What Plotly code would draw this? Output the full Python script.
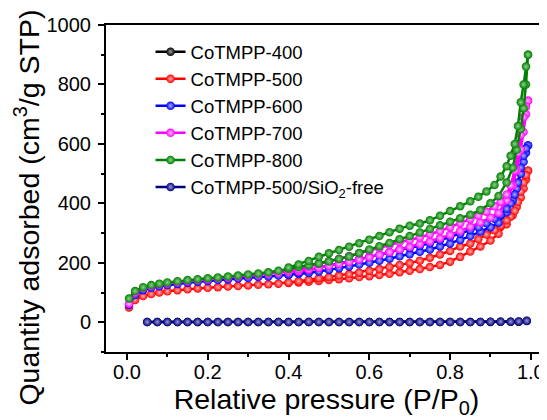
import plotly.graph_objects as go

# ---------------- data ----------------
p_ads = [0.005, 0.02, 0.04, 0.06, 0.08, 0.10, 0.125, 0.15, 0.175, 0.20, 0.225, 0.25,
         0.275, 0.30, 0.325, 0.35, 0.375, 0.40, 0.425, 0.45, 0.475, 0.50, 0.525, 0.55,
         0.575, 0.60, 0.625, 0.65, 0.675, 0.70, 0.725, 0.75, 0.775, 0.80, 0.825, 0.85,
         0.875, 0.90, 0.92, 0.94, 0.955, 0.965, 0.975, 0.982, 0.988, 0.993]
p_des = [0.993, 0.988, 0.982, 0.975, 0.968, 0.96, 0.95, 0.94, 0.925, 0.91, 0.89, 0.87,
         0.85, 0.825, 0.80, 0.775, 0.75, 0.725, 0.70, 0.675, 0.65, 0.625, 0.60, 0.575,
         0.55, 0.525, 0.50, 0.475, 0.45, 0.425, 0.40]

ads_500 = [50, 75, 88, 95, 100, 104, 108, 111, 114, 116, 118, 120, 122, 124, 126, 128,
           130, 132, 134, 136, 139, 142, 145, 148, 152, 155, 159, 163, 168, 173, 179, 186,
           193, 204, 220, 238, 255, 275, 298, 330, 360, 388, 420, 450, 480, 510]
des_500 = [510, 495, 470, 440, 405, 375, 355, 343, 325, 310, 295, 280, 265, 255, 240,
           228, 217, 207, 199, 193, 186, 179, 173, 167, 162, 157, 152, 148, 143, 138, 134]

ads_600 = [58, 92, 108, 116, 121, 125, 129, 133, 136, 139, 142, 144, 147, 149, 152, 154,
           157, 159, 162, 166, 171, 176, 182, 188, 194, 200, 207, 214, 222, 229, 237, 245,
           255, 265, 277, 290, 305, 320, 335, 370, 410, 450, 500, 540, 570, 595]
des_600 = [595, 585, 560, 520, 470, 430, 400, 382, 362, 348, 333, 320, 310, 298, 287,
           276, 266, 257, 250, 244, 235, 227, 220, 212, 205, 198, 191, 184, 175, 167, 161]

ads_700 = [62, 100, 115, 122, 127, 131, 135, 139, 142, 145, 148, 151, 154, 157, 160, 163,
           166, 169, 172, 177, 183, 189, 196, 203, 211, 219, 227, 236, 245, 254, 263, 272,
           283, 294, 307, 321, 336, 352, 368, 410, 460, 510, 580, 640, 700, 745]
des_700 = [745, 725, 690, 630, 570, 510, 460, 430, 405, 390, 372, 358, 347, 333, 320,
           307, 296, 285, 277, 270, 260, 250, 241, 232, 223, 214, 205, 196, 187, 178, 172]

ads_800 = [80, 105, 118, 125, 130, 134, 138, 142, 145, 148, 151, 154, 157, 161, 164, 168,
           173, 179, 186, 192, 198, 205, 213, 221, 233, 245, 256, 267, 279, 290, 302, 314,
           326, 338, 350, 362, 378, 400, 425, 470, 520, 580, 650, 720, 800, 900]
des_800 = [900, 860, 800, 740, 660, 600, 560, 525, 490, 462, 440, 422, 407, 390, 374,
           358, 343, 332, 325, 315, 303, 290, 278, 266, 254, 243, 232, 220, 206, 194, 184]

p_free = [0.05, 0.075, 0.10, 0.125, 0.15, 0.175, 0.20, 0.225, 0.25, 0.275, 0.30, 0.325,
          0.35, 0.375, 0.40, 0.425, 0.45, 0.475, 0.50, 0.525, 0.55, 0.575, 0.60, 0.625,
          0.65, 0.675, 0.70, 0.725, 0.75, 0.775, 0.80, 0.825, 0.85, 0.875, 0.90, 0.925,
          0.95, 0.97, 0.99]
free_vals = [1, 1, 1, 1, 1, 1, 1, 1, 1, 1, 1, 1, 1, 1, 1, 1, 1, 1, 1, 1, 1, 1, 1, 1,
             1, 1, 1, 1, 1, 1, 1, 1, 1, 1, 2, 2, 2, 3, 5]
vals_400 = [1, 1, 1, 1, 1, 1, 1, 1, 1, 1, 1, 1, 1, 1, 1, 1, 1, 1, 1, 1, 1, 1, 1, 1,
            1, 1, 1, 1, 1, 1, 1, 1, 1, 1, 1, 2, 2, 2, 4]

names = ["CoTMPP-400", "CoTMPP-500", "CoTMPP-600", "CoTMPP-700", "CoTMPP-800",
         "CoTMPP-500/SiO<sub>2</sub>-free"]
colors = ["#000000", "#ff0000", "#0000ff", "#ff00ff", "#008000", "#000080"]
highlights = ["#9a9a9a", "#ffb0b0", "#b0b0ff", "#ffc0ff", "#90d090", "#9a9ad0"]

x_ticks = [0.0, 0.2, 0.4, 0.6, 0.8, 1.0]
x_ticklabels = ["0.0", "0.2", "0.4", "0.6", "0.8", "1.0"]
y_ticks = [0, 200, 400, 600, 800, 1000]
x_title = "Relative pressure (P/P<sub>0</sub>)"
y_title = "Quantity adsorbed (cm<sup>3</sup>/g STP)"

series = [
    (p_free, vals_400),
    (p_ads + p_des, ads_500 + des_500),
    (p_ads + p_des, ads_600 + des_600),
    (p_ads + p_des, ads_700 + des_700),
    (p_ads + p_des, ads_800 + des_800),
    (p_free, free_vals),
]

FONT = "Arial, Liberation Sans, sans-serif"

fig = go.Figure()
for (xs, ys), name, col, hl in zip(series, names, colors, highlights):
    fig.add_trace(go.Scatter(
        x=xs, y=ys, name=name, mode="lines+markers",
        line=dict(color=col, width=2.5),
        marker=dict(symbol="circle", size=8.5, color=col,
                    gradient=dict(type="radial", color=hl),
                    line=dict(width=0)),
    ))

# the page body adds an 8px offset, so the figure is 8px smaller than the window
fig.update_layout(
    width=539, height=412,
    margin=dict(l=98, r=0, t=17, b=68),
    paper_bgcolor="white", plot_bgcolor="white",
    font=dict(family=FONT, color="black"),
    showlegend=True,
    legend=dict(x=0.101, y=0.975, xanchor="left", yanchor="top",
                font=dict(family=FONT, size=18.5, color="black"),
                bgcolor="rgba(0,0,0,0)", borderwidth=0,
                tracegroupgap=0),
    annotations=[dict(
        text=y_title, textangle=-90, xref="paper", yref="paper",
        x=-0.178, y=0.44, xanchor="center", yanchor="middle", showarrow=False,
        font=dict(family=FONT, size=28.5, color="black"),
    )],
)

fig.update_xaxes(
    range=[-0.052, 1.040], showgrid=False, zeroline=False,
    showline=True, linecolor="black", linewidth=2, mirror=True,
    ticks="outside", ticklen=6, tickwidth=2, tickcolor="black",
    tickvals=x_ticks, ticktext=x_ticklabels, ticklabelstandoff=-5,
    tickfont=dict(family=FONT, size=20, color="black"),
    minor=dict(ticks="outside", ticklen=3, tickwidth=2, tickcolor="black", dtick=0.1, tick0=0),
    title=dict(text=x_title,
               font=dict(family=FONT, size=28.5, color="black"), standoff=4),
)
fig.update_yaxes(
    range=[-100, 1000], showgrid=False, zeroline=False,
    showline=True, linecolor="black", linewidth=2, mirror=False,
    ticks="outside", ticklen=6, tickwidth=2, tickcolor="black",
    tickvals=y_ticks, ticklabelstandoff=3,
    tickfont=dict(family=FONT, size=20, color="black"),
    minor=dict(ticks="outside", ticklen=3, tickwidth=2, tickcolor="black", dtick=100, tick0=0),
)

fig.write_html("out.html")
